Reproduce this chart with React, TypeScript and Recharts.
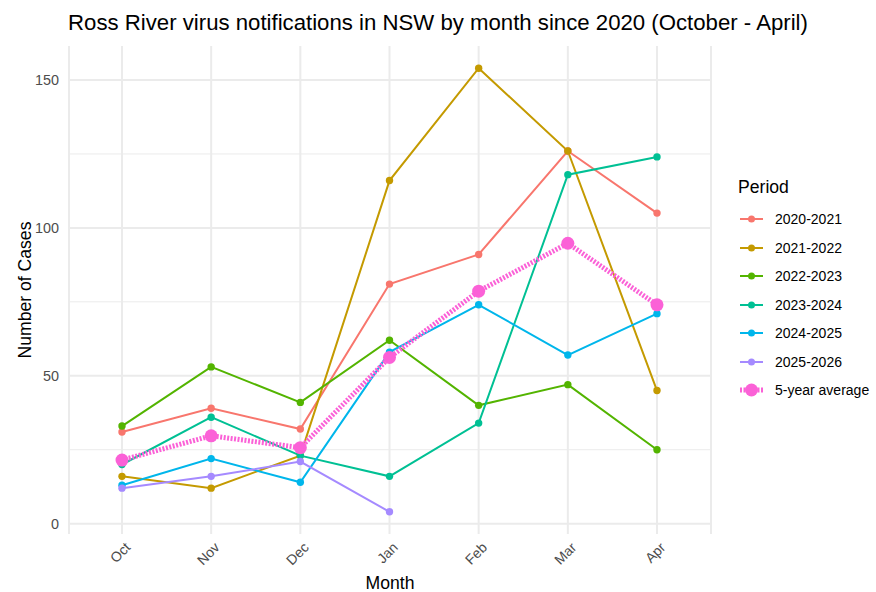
import React from 'react';
import { LineChart, Line, XAxis, YAxis, CartesianGrid } from 'recharts';

const months = ['Oct', 'Nov', 'Dec', 'Jan', 'Feb', 'Mar', 'Apr'];
const p2020 = [31, 39, 32, 81, 91, 126, 105];
const p2021 = [16, 12, 23, 116, 154, 126, 45];
const p2022 = [33, 53, 41, 62, 40, 47, 25];
const p2023 = [20, 36, 23, 16, 34, 118, 124];
const p2024 = [13, 22, 14, 58, 74, 57, 71];
const p2025 = [12, 16, 21, 4, null, null, null];
const avg5 = [21.5, 29.7, 25.7, 56.2, 78.6, 94.8, 74];

const seriesNames = ['2020-2021', '2021-2022', '2022-2023', '2023-2024', '2024-2025', '2025-2026'];
const seriesValues = [p2020, p2021, p2022, p2023, p2024, p2025];
const colors = ['#F8766D', '#C49A00', '#53B400', '#00C094', '#00B6EB', '#A58AFF'];
const avgName = '5-year average';
const avgColor = '#FB61D7';

const yTicks = [0, 50, 100, 150];
const yMinor = [25, 75, 125];

const data = months.map((m, i) => {
  const row: any = { month: m };
  seriesNames.forEach((n, j) => { row[n] = seriesValues[j][i]; });
  row[avgName] = avg5[i];
  return row;
});

const FONT = '"Liberation Sans", Arial, sans-serif';

const XTick = (props: any) => {
  const { x, y, payload } = props;
  const ax = x + 2;
  const ay = y + 5;
  return (
    <text x={ax} y={ay} transform={`rotate(-45 ${ax} ${ay})`} textAnchor="end" dominantBaseline="hanging"
      fill="#4D4D4D" fontSize={14} fontFamily={FONT}>
      {payload.value}
    </text>
  );
};

const LegendBox = () => (
  <div style={{ position: 'absolute', left: 738, top: 175, fontFamily: FONT }}>
    <div style={{ fontSize: 17.6, color: '#000', height: 30, lineHeight: '24px' }}>Period</div>
    {seriesNames.map((n, i) => (
      <div key={n} style={{ display: 'flex', alignItems: 'center', height: 28.5 }}>
        <svg width={28} height={20} style={{ display: 'block' }}>
          <line x1={2} y1={10} x2={25} y2={10} stroke={colors[i]} strokeWidth={2} />
          <circle cx={13.5} cy={10} r={3.5} fill={colors[i]} />
        </svg>
        <span style={{ fontSize: 14, color: '#000', marginLeft: 9 }}>{n}</span>
      </div>
    ))}
    <div style={{ display: 'flex', alignItems: 'center', height: 28.5, marginTop: 0 }}>
      <svg width={28} height={24} style={{ display: 'block' }}>
        <line x1={2} y1={12} x2={25} y2={12} stroke={avgColor} strokeWidth={5} strokeDasharray="2 1.5" />
        <circle cx={13.5} cy={12} r={6.5} fill={avgColor} />
      </svg>
      <span style={{ fontSize: 14, color: '#000', marginLeft: 9 }}>{avgName}</span>
    </div>
  </div>
);

export default function App() {
  return (
    <div style={{ position: 'absolute', left: 0, top: 0, width: 876, height: 592, background: '#fff', fontFamily: FONT }}>
      <LineChart width={876} height={592} data={data} margin={{ top: 46, right: 165, bottom: 0, left: 19 }}>
        <CartesianGrid vertical={false} horizontalValues={yMinor} stroke="#EBEBEB" strokeWidth={1} />
        <CartesianGrid horizontalValues={yTicks} stroke="#EBEBEB" strokeWidth={2} />
        <XAxis dataKey="month" type="category" padding={{ left: 53, right: 54 }} height={58}
          axisLine={false} tickLine={false} tickSize={0} tick={<XTick />} interval={0}
          label={{ value: 'Month', position: 'insideBottom', offset: 3, fill: '#000', fontSize: 17.6, fontFamily: FONT }} />
        <YAxis type="number" domain={[-3.5, 161.5]} ticks={yTicks} width={50} axisLine={false} tickLine={false}
          tickSize={0} tickMargin={10} tick={{ fill: '#4D4D4D', fontSize: 14.4, fontFamily: FONT }}
          label={{ value: 'Number of Cases', angle: -90, position: 'insideLeft', offset: 0, dx: 6, fill: '#000', fontSize: 17.6, fontFamily: FONT, style: { textAnchor: 'middle' } }} />
        {seriesNames.map((n, i) => (
          <Line key={n} dataKey={n} type="linear" stroke={colors[i]} strokeWidth={2}
            dot={{ r: 3.7, fill: colors[i], stroke: 'none' }} activeDot={false} isAnimationActive={false} connectNulls={false} />
        ))}
        <Line dataKey={avgName} type="linear" stroke={avgColor} strokeWidth={5} strokeDasharray="2 1.5"
          dot={{ r: 6.5, fill: avgColor, stroke: 'none' }} activeDot={false} isAnimationActive={false} />
      </LineChart>
      <div style={{ position: 'absolute', left: 0, top: 10, width: 876, textAlign: 'center', fontSize: 22.2, color: '#000', whiteSpace: 'nowrap' }}>
        Ross River virus notifications in NSW by month since 2020 (October - April)
      </div>
      <LegendBox />
    </div>
  );
}
